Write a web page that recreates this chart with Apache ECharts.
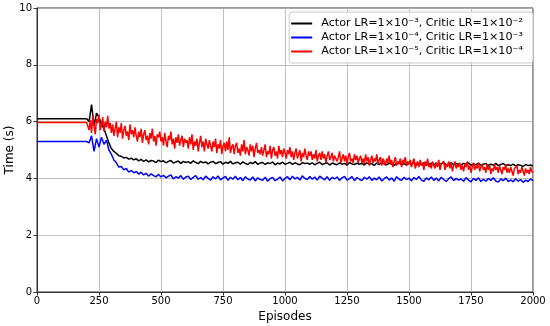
<!DOCTYPE html>
<html><head><meta charset="utf-8">
<script src="https://cdn.jsdelivr.net/npm/echarts@6/dist/echarts.min.js"></script>
<style>html,body{margin:0;padding:0;background:#fff}#c{width:550px;height:326px}</style>
</head><body><div id="c"></div>
<script>
const seriesNames = [
  'Actor LR=1×10⁻³, Critic LR=1×10⁻²',
  'Actor LR=1×10⁻⁴, Critic LR=1×10⁻³',
  'Actor LR=1×10⁻⁵, Critic LR=1×10⁻⁴'
];
const seriesColors = ['#000000', '#0000ff', '#ff0000'];
const xTicks = [0, 250, 500, 750, 1000, 1250, 1500, 1750, 2000];
const yTicks = [0, 2, 4, 6, 8, 10];
// flat warm-up phase (episodes 0..200)
const warmupEpisodes = [0, 200];
const warmupBlack = 6.1, warmupBlue = 5.3, warmupRed = 5.97;
// training phase: black & blue sampled every 10 episodes, red every 5, from 210 to 2000
const trainStart = 210;
const blackStep = 10, blueStep = 10, redStep = 5;
const blackVals = [
6.0,6.6,5.85,6.3,6.15,5.9,5.75,5.5,5.25,5.05,
4.95,4.88,4.8,4.78,4.72,4.74,4.68,4.71,4.65,4.69,
4.62,4.67,4.6,4.65,4.58,4.63,4.61,4.56,4.64,4.59,
4.62,4.55,4.6,4.63,4.54,4.58,4.61,4.53,4.6,4.56,
4.59,4.53,4.62,4.56,4.52,4.6,4.55,4.58,4.51,4.57,
4.6,4.52,4.56,4.59,4.5,4.57,4.53,4.6,4.51,4.55,
4.57,4.5,4.58,4.53,4.49,4.56,4.52,4.59,4.5,4.54,
4.56,4.49,4.55,4.52,4.58,4.48,4.54,4.51,4.57,4.5,
4.53,4.57,4.49,4.55,4.51,4.48,4.56,4.52,4.54,4.5,
4.55,4.48,4.53,4.57,4.49,4.52,4.55,4.47,4.54,4.51,
4.48,4.55,4.5,4.53,4.47,4.56,4.51,4.49,4.54,4.5,
4.53,4.47,4.55,4.5,4.52,4.46,4.54,4.49,4.56,4.51,
4.48,4.54,4.5,4.46,4.53,4.55,4.48,4.52,4.47,4.54,
4.5,4.56,4.47,4.52,4.49,4.55,4.46,4.51,4.53,4.48,
4.54,4.49,4.52,4.56,4.47,4.51,4.55,4.48,4.53,4.5,
4.47,4.53,4.49,4.55,4.46,4.51,4.48,4.54,4.47,4.5,
4.52,4.46,4.5,4.47,4.53,4.45,4.49,4.52,4.46,4.48,
4.45,4.5,4.44,4.48,4.46,4.42,4.49,4.45,4.47,4.43
];
const blueVals = [
5.25,5.5,4.95,5.4,5.1,5.45,5.2,5.35,5.0,4.85,
4.65,4.55,4.4,4.42,4.3,4.35,4.22,4.28,4.2,4.24,
4.15,4.22,4.12,4.18,4.08,4.16,4.1,4.06,4.14,4.05,
4.11,4.02,4.08,4.12,3.98,4.06,4.01,4.1,3.97,4.05,
4.08,3.96,4.04,4.1,3.97,4.03,3.95,4.08,4.0,3.94,
4.06,3.98,4.09,3.95,4.02,4.07,3.93,4.04,3.97,4.08,
3.95,4.03,3.92,4.06,3.98,3.94,4.05,3.91,4.02,3.96,
3.93,4.04,3.9,3.99,4.03,3.92,3.97,4.05,3.91,4.0,
4.06,3.95,4.08,3.98,4.04,3.94,4.09,4.0,3.96,4.07,
3.97,4.05,3.94,4.08,4.01,3.95,4.06,3.93,4.04,3.98,
4.05,3.93,4.02,4.07,3.94,3.99,4.06,3.92,4.03,3.97,
3.92,4.04,3.97,4.06,3.93,4.01,3.95,4.05,3.91,3.99,
4.05,3.94,4.02,3.9,4.06,3.97,3.93,4.04,3.96,4.01,
3.92,4.03,3.96,4.07,3.94,3.9,4.02,3.95,4.05,3.93,
4.01,3.91,4.04,3.96,3.89,3.99,4.05,3.92,4.0,3.94,
3.98,3.9,4.03,3.94,3.88,4.0,3.93,4.02,3.89,3.97,
3.9,4.0,3.93,4.02,3.91,3.87,3.98,3.92,4.01,3.89,
3.95,3.88,3.99,3.9,3.96,3.86,3.94,3.89,3.98,3.92
];
const redVals = [
5.7,6.05,5.6,6.2,5.85,5.55,6.1,5.95,6.25,5.7,5.9,6.15,5.65,6.0,5.8,6.2,5.75,5.95,5.6,
5.9,5.5,5.75,6.0,5.45,5.8,5.6,5.95,5.4,5.7,5.85,5.5,5.65,5.35,5.9,5.55,5.7,5.45,5.8,5.5,
5.3,5.65,5.45,5.75,5.25,5.55,5.7,5.35,5.5,5.2,5.6,5.4,5.75,5.3,5.5,5.15,5.55,5.45,5.65,5.3,
5.45,5.15,5.6,5.3,5.1,5.5,5.35,5.65,5.2,5.4,5.05,5.45,5.25,5.55,5.15,5.35,5.5,5.1,5.4,5.25,
5.35,5.05,5.45,5.2,5.55,5.0,5.3,5.15,5.4,4.95,5.25,5.5,5.1,5.3,4.95,5.4,5.2,5.05,5.35,5.15,
4.95,5.3,5.1,5.4,4.9,5.2,5.05,5.35,4.85,5.15,5.25,4.95,5.3,5.0,5.45,4.9,5.1,5.2,4.85,5.15,
5.25,4.9,5.05,4.8,5.2,4.95,5.35,4.85,5.1,5.0,4.8,5.2,4.95,5.15,4.75,5.05,5.25,4.9,5.0,4.85,
5.1,4.8,5.0,5.2,4.75,4.95,4.85,5.15,4.7,5.0,5.1,4.8,4.95,4.7,5.15,4.85,5.0,4.75,5.05,4.9,
4.7,5.0,4.85,5.1,4.75,4.95,4.65,4.9,5.05,4.7,4.85,5.0,4.6,4.9,4.75,5.05,4.8,4.65,4.95,4.8,
4.95,4.65,4.85,4.7,5.0,4.6,4.8,4.9,4.65,4.95,4.7,4.85,4.55,4.8,4.95,4.65,4.75,4.9,4.6,4.8,
4.85,4.6,4.75,4.95,4.55,4.7,4.85,4.6,4.8,4.5,4.75,4.9,4.6,4.7,4.55,4.85,4.65,4.8,4.55,4.7,
4.8,4.55,4.7,4.5,4.85,4.6,4.75,4.45,4.65,4.8,4.55,4.7,4.6,4.85,4.5,4.65,4.75,4.45,4.7,4.6,
4.45,4.7,4.55,4.8,4.5,4.65,4.4,4.6,4.75,4.45,4.6,4.5,4.7,4.4,4.65,4.55,4.75,4.45,4.6,4.5,
4.65,4.4,4.55,4.7,4.35,4.5,4.6,4.4,4.65,4.45,4.55,4.3,4.6,4.45,4.7,4.4,4.5,4.35,4.6,4.45,
4.35,4.55,4.4,4.65,4.3,4.5,4.45,4.6,4.3,4.5,4.4,4.6,4.35,4.55,4.25,4.45,4.6,4.35,4.5,4.4,
4.55,4.3,4.45,4.25,4.5,4.4,4.6,4.3,4.45,4.2,4.4,4.55,4.3,4.45,4.35,4.55,4.25,4.4,4.5,4.3,
4.4,4.2,4.5,4.3,4.45,4.15,4.35,4.25,4.5,4.3,4.4,4.2,4.45,4.3,4.15,4.4,4.3,4.5,4.2,4.35,
4.2,4.4,4.25,4.1,4.35,4.3,4.45,4.15,4.3,4.2,4.4,4.25,4.1,4.35,4.2,4.3,4.15,4.4,4.25,4.2
];

function build(flat, vals, step) {
  const d = warmupEpisodes.map(e => [e, flat]);
  vals.forEach((v, i) => d.push([trainStart + i * step, v]));
  return d;
}
const datasets = [
  build(warmupBlack, blackVals, blackStep),
  build(warmupBlue, blueVals, blueStep),
  build(warmupRed, redVals, redStep)
];

const font = 'DejaVu Sans';
const chart = echarts.init(document.getElementById('c'), null, {renderer: 'canvas'});
chart.setOption({
  animation: false,
  backgroundColor: '#fff',
  grid: {left: 37, right: 17, top: 8, bottom: 34, containLabel: false, outerBoundsMode: 'none',
         show: true, borderColor: '#333', borderWidth: 1, backgroundColor: 'transparent'},
  legend: {
    orient: 'vertical', right: 17, top: 12,
    data: seriesNames,
    icon: 'rect', itemWidth: 21, itemHeight: 2, itemGap: 1,
    padding: [5, 10, 5, 2],
    backgroundColor: 'rgba(255,255,255,0.85)', borderColor: '#cccccc', borderWidth: 1, borderRadius: 3,
    textStyle: {fontFamily: font, fontSize: 11.2, lineHeight: 13, color: '#000', padding: [0, 0, 0, 4]}
  },
  xAxis: {
    type: 'value', min: xTicks[0], max: xTicks[xTicks.length - 1], interval: 250,
    name: 'Episodes', nameLocation: 'middle', nameGap: 18,
    nameTextStyle: {fontFamily: font, fontSize: 12, color: '#000'},
    axisLine: {show: true, lineStyle: {color: '#333', width: 1}},
    axisTick: {show: true, length: 3.5, lineStyle: {color: '#333'}},
    axisLabel: {fontFamily: font, fontSize: 10, color: '#000', margin: 4, formatter: v => String(v)},
    splitLine: {show: true, lineStyle: {color: '#b0b0b0', width: 0.8}}
  },
  yAxis: {
    type: 'value', min: yTicks[0], max: yTicks[yTicks.length - 1], interval: 2,
    name: 'Time (s)', nameLocation: 'middle', nameGap: 21, nameRotate: 90, nameMoveOverlap: false,
    nameTextStyle: {fontFamily: font, fontSize: 12, color: '#000'},
    axisLine: {show: true, lineStyle: {color: '#333', width: 1}},
    axisTick: {show: true, length: 3.5, lineStyle: {color: '#333'}},
    axisLabel: {fontFamily: font, fontSize: 10, color: '#000', margin: 5, formatter: v => String(v)},
    splitLine: {show: true, lineStyle: {color: '#b0b0b0', width: 0.8}}
  },
  series: seriesNames.map((n, i) => ({
    name: n, type: 'line', data: datasets[i], showSymbol: false, symbol: 'none',
    lineStyle: {color: seriesColors[i], width: 1.5}, itemStyle: {color: seriesColors[i]},
    color: seriesColors[i]
  }))
});
</script></body></html>
